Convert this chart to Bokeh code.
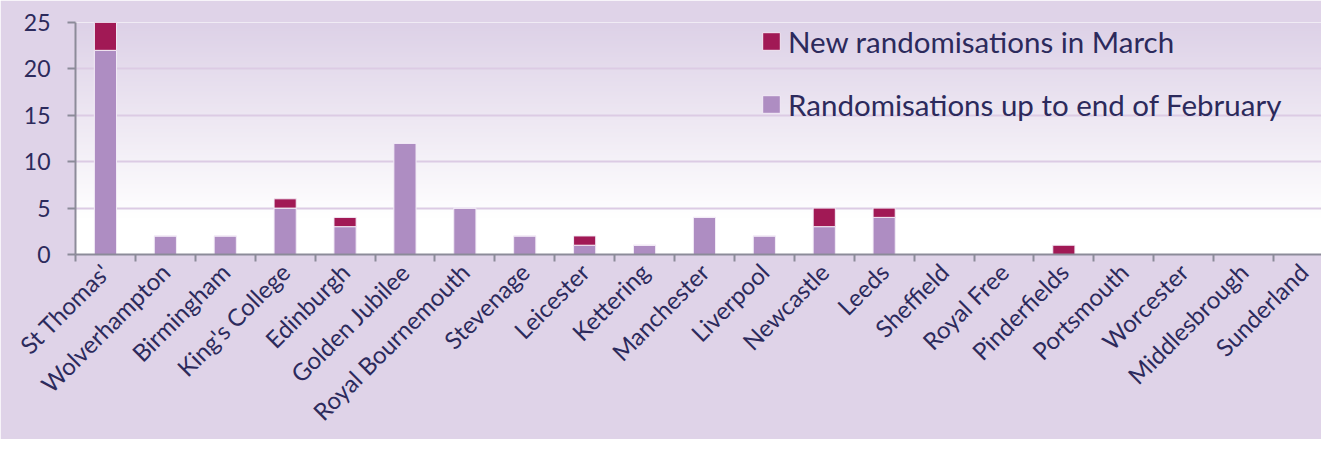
import numpy as np
from bokeh.plotting import figure
from bokeh.models import Range1d, FixedTicker, Legend, LegendItem, ColumnDataSource
from bokeh.embed import file_html
from bokeh.resources import INLINE

sites = ["St Thomas'", "Wolverhampton", "Birmingham", "King's College", "Edinburgh",
         "Golden Jubilee", "Royal Bournemouth", "Stevenage", "Leicester", "Kettering",
         "Manchester", "Liverpool", "Newcastle", "Leeds", "Sheffield", "Royal Free",
         "Pinderfields", "Portsmouth", "Worcester", "Middlesbrough", "Sunderland"]
up_to_feb = [22, 2, 2, 5, 3, 12, 5, 2, 1, 1, 4, 2, 3, 4, 0, 0, 0, 0, 0, 0, 0]
new_march = [3, 0, 0, 1, 1, 0, 0, 0, 1, 0, 0, 0, 2, 1, 0, 0, 1, 0, 0, 0, 0]
y_ticks = [0, 5, 10, 15, 20, 25]

n = len(sites)
centers = [i + 0.5 for i in range(n)]
feb_arr = np.array(up_to_feb, dtype=float)
mar_arr = np.array(new_march, dtype=float)
src = ColumnDataSource(dict(x=centers, feb=feb_arr, top=feb_arr + mar_arr))

TXT = "#2C2A5C"
FONT = "Lato"
AXIS = "#8C8B99"
BORDER = "#DFD3E8"

W, H = 1321, 439
LEFT, TOP, BOTTOM = 75, 22, 185
x_end = (W - LEFT) / 59.9   # frame is cut at the right like the reference

p = figure(width=W, height=H, x_range=Range1d(0, x_end), y_range=Range1d(0, 25),
           output_backend="svg", toolbar_location=None,
           min_border_left=LEFT, min_border_top=TOP, min_border_right=0, min_border_bottom=BOTTOM)
p.border_fill_color = BORDER
p.background_fill_color = "white"
p.outline_line_color = None

# vertical gradient in the plot area
N = 250
top_c = np.array([221, 209, 231], dtype=float)
vals = (np.arange(N) + 0.5) / N * 25
t = np.clip((vals - 4.0) / 21.0, 0, 1)[:, None]
cols = (255 * (1 - t) + top_c[None, :] * t).astype(np.uint8)
img = np.empty((N, 1), dtype=np.uint32)
view = img.view(dtype=np.uint8).reshape((N, 1, 4))
view[:, 0, 0] = cols[:, 0]
view[:, 0, 1] = cols[:, 1]
view[:, 0, 2] = cols[:, 2]
view[:, 0, 3] = 255
p.image_rgba(image=[img], x=0, y=0, dw=n, dh=25, level="image")

r_feb = p.vbar(x="x", bottom=0, top="feb", width=0.37, source=src,
               fill_color="#AE8DC2", line_color="#F3ECF7", line_width=1)
r_mar = p.vbar(x="x", bottom="feb", top="top", width=0.37, source=src,
               fill_color="#A11955", line_color="#F3ECF7", line_width=1)

legend = Legend(items=[LegendItem(label="New randomisations in March", renderers=[r_mar]),
                       LegendItem(label="Randomisations up to end of February", renderers=[r_feb])],
                location=(685, 132), orientation="vertical")
legend.background_fill_alpha = 0
legend.border_line_alpha = 0
legend.padding = 0
legend.margin = 0
legend.spacing = 27
legend.glyph_width = 22
legend.glyph_height = 22
legend.label_height = 36
legend.label_standoff = 6
legend.label_text_font = FONT
legend.label_text_font_size = "29.5px"
legend.label_text_color = TXT
p.add_layout(legend)

p.xgrid.visible = False
p.ygrid.ticker = FixedTicker(ticks=y_ticks)
p.ygrid.grid_line_color = "#DCCBE4"
p.ygrid.grid_line_width = 2

xa = p.xaxis[0]
xa.ticker = FixedTicker(ticks=centers, minor_ticks=list(range(n + 1)))
xa.major_label_overrides = {c: s for c, s in zip(centers, sites)}
xa.major_label_orientation = np.pi / 4
xa.major_tick_out = 0
xa.major_tick_in = 0
xa.minor_tick_out = 7
xa.minor_tick_in = 0
xa.minor_tick_line_color = AXIS
xa.minor_tick_line_width = 2
xa.axis_line_color = AXIS
xa.axis_line_width = 2
xa.major_label_text_font = FONT
xa.major_label_text_font_size = "24px"
xa.major_label_text_color = TXT
xa.major_label_standoff = 6

ya = p.yaxis[0]
ya.ticker = FixedTicker(ticks=y_ticks)
ya.major_tick_out = 8
ya.major_tick_in = 0
ya.minor_tick_out = 0
ya.minor_tick_in = 0
ya.major_tick_line_color = AXIS
ya.major_tick_line_width = 2
ya.axis_line_color = AXIS
ya.axis_line_width = 2
ya.major_label_text_font = FONT
ya.major_label_text_font_size = "23px"
ya.major_label_text_color = TXT
ya.major_label_standoff = 17

open("out.html", "w").write(file_html(p, INLINE))
